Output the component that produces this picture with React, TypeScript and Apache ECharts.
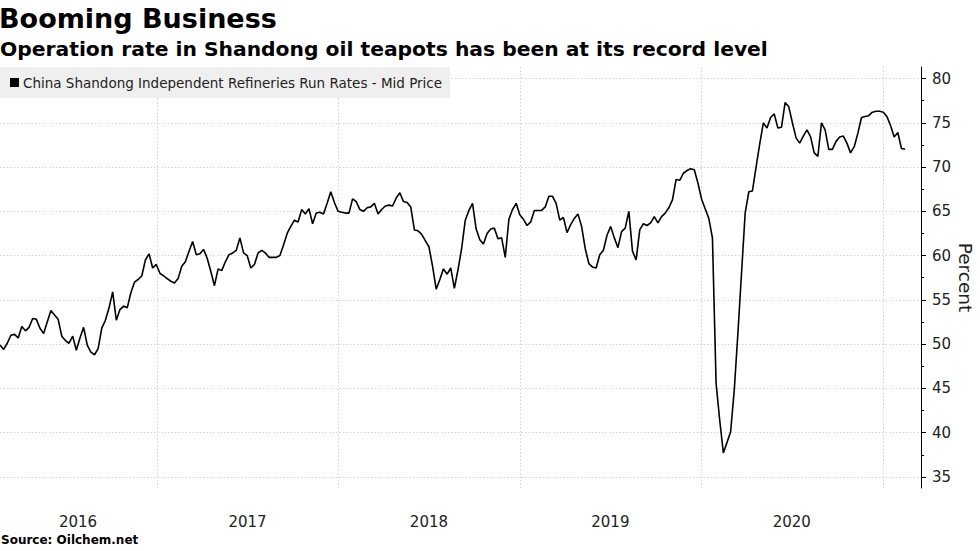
import React, { useEffect, useRef } from 'react';
import * as echarts from 'echarts';

const titleText = 'Booming Business';
const subtitleText = 'Operation rate in Shandong oil teapots has been at its record level';
const sourceText = 'Source: Oilchem.net';
const seriesName = 'China Shandong Independent Refineries Run Rates - Mid Price';
const axisName = 'Percent';

// first and last observation dates (weekly observations spread evenly between them)
const firstDate = '2016-02-20';
const lastDate = '2021-02-14';
const axisEndDate = '2021-03-18';

const rates2016 = [49.9, 49.4, 50.1, 51.0, 51.1, 50.7, 52.0, 51.5, 51.9, 52.9, 52.8, 51.8, 51.2, 52.5, 53.8, 53.3, 52.8, 50.9, 50.4, 50.1, 50.9, 49.3, 50.7, 51.9, 49.9, 49.1, 48.8, 49.5, 51.8, 52.7, 54.1, 55.9, 52.7, 53.9, 54.3, 54.1, 55.8, 57.0, 57.3, 57.7, 59.5, 60.2, 58.6];
const rates2017 = [59.0, 58.0, 57.7, 57.4, 57.1, 56.9, 57.4, 58.8, 59.3, 60.5, 61.6, 60.1, 60.2, 60.7, 59.7, 58.2, 56.6, 58.5, 58.3, 59.3, 60.1, 60.3, 60.6, 62.0, 60.3, 60.0, 58.6, 59.0, 60.3, 60.6, 60.3, 59.8, 59.8, 59.8, 60.0, 61.2, 62.5, 63.3, 64.0, 63.8, 65.2, 64.7, 65.3, 63.6, 64.8, 64.9, 64.7, 65.9, 67.2, 66.0];
const rates2018 = [65.0, 64.9, 64.8, 64.8, 66.4, 66.1, 65.2, 65.0, 65.4, 65.5, 65.9, 64.7, 65.2, 65.6, 65.7, 65.6, 66.5, 67.1, 66.1, 66.0, 65.5, 62.9, 62.8, 62.4, 61.7, 61.0, 58.8, 56.2, 57.3, 58.5, 57.9, 58.6, 56.3, 58.4, 60.8, 64.0, 65.1, 65.9, 63.0, 61.8, 61.3, 62.5, 63.0, 63.1, 61.9, 62.0, 59.8, 64.1, 65.2, 65.9];
const rates2019 = [64.6, 64.1, 63.4, 63.8, 65.1, 65.1, 65.1, 65.5, 66.7, 66.7, 65.9, 64.0, 64.3, 62.6, 63.5, 64.2, 64.7, 63.3, 60.8, 59.1, 58.7, 58.6, 60.1, 60.6, 62.3, 63.3, 62.0, 60.9, 62.7, 63.1, 65.0, 60.5, 59.5, 62.9, 63.6, 63.4, 63.7, 64.4, 63.7, 64.4, 64.8, 65.4, 66.3, 68.6, 68.5, 69.3, 69.6, 69.8, 69.7, 68.2];
const rates2020 = [66.4, 65.3, 64.2, 62.0, 45.6, 41.4, 37.7, 38.9, 40.1, 44.8, 51.2, 58.0, 64.8, 67.2, 67.3, 70.0, 72.6, 75.0, 74.4, 75.6, 76.0, 74.4, 74.5, 77.3, 76.8, 75.0, 73.3, 72.7, 73.5, 74.2, 73.4, 71.6, 71.2, 75.0, 74.2, 72.0, 72.0, 72.9, 73.4, 73.5, 72.7, 71.6, 72.3, 73.8, 75.6, 75.7, 75.8, 76.2, 76.3];
const rates2021 = [76.3, 76.2, 75.7, 74.7, 73.4, 73.9, 72.1, 72.0];

const yearStarts = ['2017-01-01', '2018-01-01', '2019-01-01', '2020-01-01', '2021-01-01'];
const yearLabelDates = ['2016-07-26', '2017-07-02', '2018-07-02', '2019-07-02', '2020-07-01'];
const yMajorTicks = [35, 40, 45, 50, 55, 60, 65, 70, 75, 80];
const yMinorTicks = [37.5, 42.5, 47.5, 52.5, 57.5, 62.5, 67.5, 72.5, 77.5];
const yMin = 33.75;
const yMax = 81.3;

const FONT = 'DejaVu Sans';

export default function App() {
  const ref = useRef<HTMLDivElement>(null);
  useEffect(() => {
    const chart = echarts.init(ref.current!, null, { renderer: 'svg' });
    const values = [...rates2016, ...rates2017, ...rates2018, ...rates2019, ...rates2020, ...rates2021];
    const ts = (s: string) => new Date(s + 'T00:00:00Z').getTime();
    const t0 = ts(firstDate);
    const t1 = ts(lastDate);
    const step = (t1 - t0) / (values.length - 1);
    const data = values.map((v, i) => [t0 + i * step, v]);

    chart.setOption({
      animation: false,
      backgroundColor: '#ffffff',
      textStyle: { fontFamily: FONT },
      title: [
        { text: titleText, left: -1, top: 5, padding: 0, textStyle: { fontFamily: FONT, fontSize: 27, fontWeight: 'bold', color: '#000' } },
        { text: subtitleText, left: 0, top: 39, padding: 0, textStyle: { fontFamily: FONT, fontSize: 20.3, fontWeight: 'bold', color: '#000' } },
        { text: sourceText, left: 1, top: 534, padding: 0, textStyle: { fontFamily: FONT, fontSize: 12, fontWeight: 'bold', color: '#000' } },
      ],
      legend: {
        left: 0,
        top: 67,
        padding: [8, 8, 8, 10],
        backgroundColor: '#efefef',
        icon: 'rect',
        itemWidth: 9,
        itemHeight: 9,
        selectedMode: false,
        data: [seriesName],
        textStyle: { fontFamily: FONT, fontSize: 13.5, color: '#222', lineHeight: 15, padding: [0, 0, 0, -1] },
      },
      grid: { left: 0, right: 59, top: 67, bottom: 63, outerBoundsMode: 'none', containLabel: false },
      xAxis: {
        type: 'value',
        min: t0,
        max: ts(axisEndDate),
        axisLine: { show: false },
        axisTick: { show: false, customValues: yearStarts.map(ts) },
        axisLabel: {
          customValues: yearLabelDates.map(ts),
          formatter: (v: number) => String(new Date(v).getUTCFullYear()),
          fontFamily: FONT,
          fontSize: 15,
          color: '#222',
          margin: 26,
        },
        splitLine: { show: true, lineStyle: { color: '#d2d2d2', width: 1, type: [1.5, 2] } },
      },
      yAxis: [
        {
          type: 'value',
          position: 'right',
          min: yMin,
          max: yMax,
          name: axisName,
          nameLocation: 'middle',
          nameRotate: -90,
          nameGap: 34,
          nameMoveOverlap: false,
          nameTextStyle: { fontFamily: FONT, fontSize: 18.5, color: '#222', lineHeight: 20 },
          axisLine: { show: true, lineStyle: { color: '#000', width: 1 } },
          axisTick: { show: true, customValues: yMajorTicks, length: 5, lineStyle: { color: '#000' } },
          axisLabel: { customValues: yMajorTicks, fontFamily: FONT, fontSize: 15, color: '#222', margin: 11 },
          splitLine: { show: true, lineStyle: { color: '#d2d2d2', width: 1, type: [1.5, 2] } },
        },
        {
          type: 'value',
          position: 'right',
          min: yMin,
          max: yMax,
          axisLine: { show: false },
          axisTick: { show: true, customValues: yMinorTicks, length: 3, lineStyle: { color: '#000' } },
          axisLabel: { show: false },
          splitLine: { show: false },
        },
      ],
      series: [
        {
          type: 'line',
          name: seriesName,
          data,
          yAxisIndex: 0,
          showSymbol: false,
          symbol: 'none',
          lineStyle: { color: '#000', width: 1.6 },
          itemStyle: { color: '#000' },
        },
      ],
    });
    return () => chart.dispose();
  }, []);
  return <div ref={ref} style={{ position: 'absolute', left: 0, top: 0, width: 980, height: 551 }} />;
}
